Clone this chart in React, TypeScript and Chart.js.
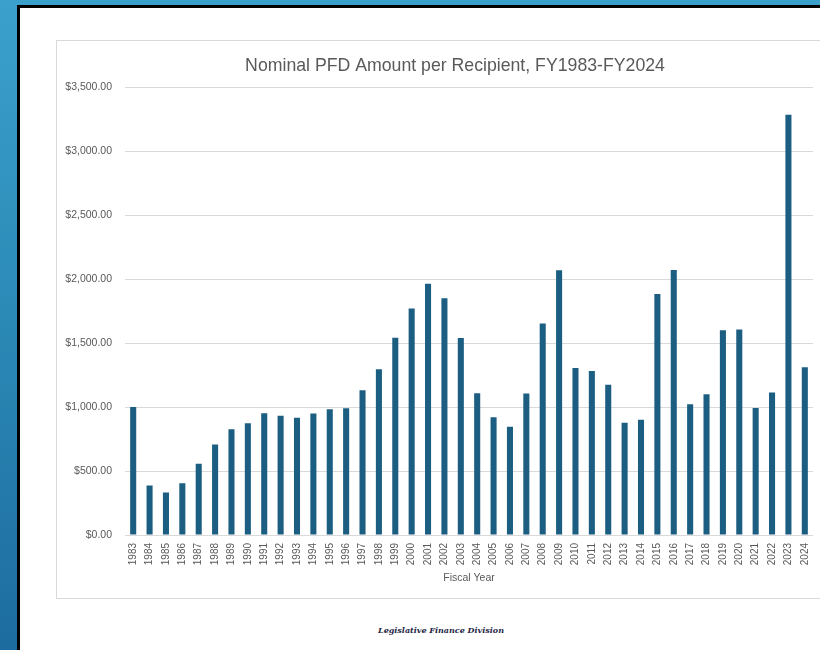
import React, { useEffect, useRef } from "react";
import { Chart, registerables } from "chart.js";

Chart.register(...registerables);

const years: string[] = [
  "1983","1984","1985","1986","1987","1988","1989","1990","1991","1992",
  "1993","1994","1995","1996","1997","1998","1999","2000","2001","2002",
  "2003","2004","2005","2006","2007","2008","2009","2010","2011","2012",
  "2013","2014","2015","2016","2017","2018","2019","2020","2021","2022",
  "2023","2024",
];

const pfdAmounts: number[] = [
  1000.0, 386.15, 331.29, 404.0, 556.26, 708.19, 826.93, 873.16, 952.63, 931.34,
  915.84, 949.46, 983.9, 990.3, 1130.68, 1296.54, 1540.88, 1769.84, 1963.86, 1850.28,
  1540.76, 1107.56, 919.84, 845.76, 1106.96, 1654.0, 2069.0, 1305.0, 1281.0, 1174.0,
  878.0, 900.0, 1884.0, 2072.0, 1022.0, 1100.0, 1600.0, 1606.0, 992.0, 1114.0,
  3284.0, 1312.0,
];

const chartTitle = "Nominal PFD Amount per Recipient, FY1983-FY2024";
const xAxisTitle = "Fiscal Year";
const footerText = "Legislative Finance Division";
const yMin = 0;
const yMax = 3500;
const yStep = 500;

const fmtMoney = (v: number) =>
  "$" + v.toLocaleString("en-US", { minimumFractionDigits: 2, maximumFractionDigits: 2 });

// Centre the title over the whole (partly cropped) chart box, as in the source
const titleShift = {
  id: "titleShift",
  afterLayout(chart: any) {
    if (chart.titleBlock) chart.titleBlock.left = 41;
  },
};

export default function App() {
  const canvasRef = useRef<HTMLCanvasElement | null>(null);

  useEffect(() => {
    document.body.style.margin = "0";
    const canvas = canvasRef.current;
    if (!canvas) return;
    const font = "'Liberation Sans', Arial, sans-serif";
    const chart = new Chart(canvas, {
      type: "bar",
      data: {
        labels: years,
        datasets: [
          {
            label: "PFD Amount",
            data: pfdAmounts,
            backgroundColor: "#1b5e82",
            borderWidth: 0,
            categoryPercentage: 1,
            barPercentage: 0.37,
          },
        ],
      },
      plugins: [titleShift],
      options: {
        animation: false,
        responsive: false,
        maintainAspectRatio: false,
        layout: { padding: { top: 0, left: 0, right: 41, bottom: 0 } },
        plugins: {
          legend: { display: false },
          tooltip: { enabled: false },
          title: {
            display: true,
            text: chartTitle,
            color: "#595959",
            font: { family: font, size: 17.7, weight: "normal" as any, lineHeight: 1.2 },
            padding: { top: 15, bottom: 11 },
          },
        },
        scales: {
          x: {
            grid: { display: false, drawTicks: false },
            border: { display: false },
            ticks: {
              color: "#595959",
              font: { family: font, size: 10 },
              minRotation: 90,
              maxRotation: 90,
              autoSkip: false,
              padding: 8,
            },
            title: {
              display: true,
              text: xAxisTitle,
              color: "#595959",
              font: { family: font, size: 10.5 },
              padding: { top: 0, bottom: 14 },
            },
            afterFit: (scale: any) => {
              scale.height = 63;
            },
          },
          y: {
            min: yMin,
            max: yMax,
            grid: { color: "#d9d9d9", lineWidth: 1, drawTicks: false },
            border: { display: false },
            ticks: {
              stepSize: yStep,
              color: "#595959",
              font: { family: font, size: 10.5 },
              padding: 13,
              callback: (v: any) => fmtMoney(Number(v)),
            },
            afterFit: (scale: any) => {
              scale.width = 69;
            },
          },
        },
      },
    });
    return () => chart.destroy();
  }, []);

  return (
    <div
      style={{
        position: "absolute",
        left: 0,
        top: 0,
        width: 820,
        height: 650,
        overflow: "hidden",
        background: "linear-gradient(180deg, #3ba1cc 0%, #2b89b6 50%, #1d6c9f 100%)",
      }}
    >
      <div
        style={{
          position: "absolute",
          left: 17,
          top: 5,
          width: 820,
          height: 660,
          background: "#000",
        }}
      />
      <div
        style={{
          position: "absolute",
          left: 20,
          top: 8,
          width: 820,
          height: 660,
          background: "#fff",
        }}
      />
      <div
        style={{
          position: "absolute",
          left: 56,
          top: 40,
          width: 799,
          height: 559,
          border: "1px solid #d9d9d9",
          boxSizing: "border-box",
        }}
      />
      <canvas
        ref={canvasRef}
        width={798}
        height={558}
        style={{ position: "absolute", left: 56, top: 40, width: 798, height: 558 }}
      />
      <div
        style={{
          position: "absolute",
          left: 340,
          top: 625,
          width: 202,
          textAlign: "center",
          fontFamily: "'DejaVu Serif', serif",
          fontStyle: "italic",
          fontWeight: "bold",
          fontSize: 8,
          color: "#1f2747",
          whiteSpace: "nowrap",
        }}
      >
        {footerText}
      </div>
    </div>
  );
}
